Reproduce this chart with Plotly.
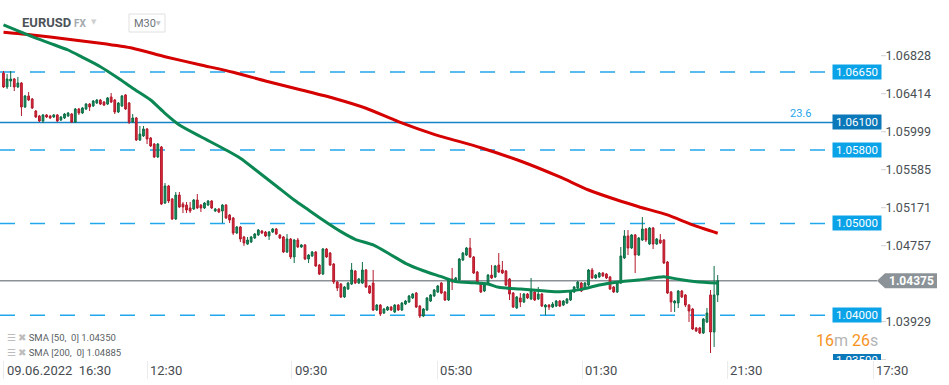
import plotly.graph_objects as go

# ---------------- data (EURUSD, M30) ----------------
open_ = [1.06639,1.06487,1.06552,1.06574,1.06487,1.06530,1.06269,1.06389,1.06356,1.06225,
1.06171,1.06116,1.06182,1.06171,1.06160,1.06182,1.06127,1.06149,1.06171,1.06192,
1.06105,1.06247,1.06203,1.06247,1.06301,1.06280,1.06312,1.06345,1.06323,1.06301,
1.06378,1.06345,1.06214,1.06280,1.06400,1.06312,1.06105,1.06149,1.05909,1.05953,
1.06029,1.05931,1.05865,1.05724,1.05833,1.05222,1.05408,1.05266,1.05048,1.05309,
1.05211,1.05200,1.05168,1.05157,1.05255,1.05200,1.05168,1.05200,1.05244,1.05135,
1.05157,1.05135,1.05200,1.05091,1.05059,1.04895,1.04961,1.04852,1.04775,1.04797,
1.04841,1.04874,1.04917,1.04906,1.04863,1.04906,1.04939,1.04874,1.04852,1.04688,
1.04830,1.04634,1.04819,1.04743,1.04765,1.04612,1.04645,1.04688,1.04546,1.04448,
1.04721,1.04677,1.04557,1.04361,1.04339,1.04198,1.04285,1.04339,1.04481,1.04350,
1.04350,1.04492,1.04318,1.04350,1.04056,1.04110,1.04023,1.04056,1.04088,1.04034,
1.04110,1.04056,1.04121,1.04143,1.04187,1.04241,1.04099,1.03990,1.04056,1.04154,
1.04209,1.04252,1.04350,1.04252,1.04165,1.04394,1.04361,1.04383,1.04601,1.04655,
1.04732,1.04634,1.04470,1.04350,1.04263,1.04350,1.04437,1.04416,1.04546,1.04492,
1.04481,1.04394,1.04241,1.04078,1.04187,1.04143,1.04230,1.04176,1.04252,1.04176,
1.04230,1.04088,1.04110,1.04088,1.04099,1.04154,1.04110,1.04132,1.04165,1.04252,
1.04296,1.04350,1.04296,1.04328,1.04492,1.04405,1.04416,1.04459,1.04448,1.04416,
1.04307,1.04252,1.04350,1.04623,1.04863,1.04732,1.04874,1.04655,1.04819,1.04939,
1.04775,1.04950,1.04775,1.04819,1.04819,1.04579,1.04252,1.04132,1.04132,1.04263,
1.04220,1.04110,1.04067,1.03860,1.03860,1.03805,1.03925,1.04220,1.03816,1.04220]

high = [1.06661,1.06628,1.06661,1.06585,1.06596,1.06541,1.06400,1.06432,1.06367,1.06236,
1.06182,1.06192,1.06192,1.06182,1.06192,1.06192,1.06171,1.06203,1.06214,1.06203,
1.06258,1.06258,1.06269,1.06312,1.06312,1.06345,1.06356,1.06356,1.06334,1.06378,
1.06421,1.06356,1.06323,1.06400,1.06410,1.06323,1.06192,1.06160,1.06062,1.06062,
1.06040,1.05942,1.05876,1.05876,1.05844,1.05440,1.05419,1.05277,1.05342,1.05342,
1.05233,1.05233,1.05233,1.05266,1.05320,1.05211,1.05233,1.05255,1.05255,1.05168,
1.05168,1.05211,1.05211,1.05102,1.05070,1.04972,1.04972,1.04863,1.04852,1.04863,
1.04895,1.04939,1.04928,1.04917,1.04917,1.04950,1.04950,1.04884,1.04863,1.04884,
1.04841,1.04830,1.04841,1.04775,1.04775,1.04666,1.04699,1.04699,1.04557,1.04732,
1.04732,1.04688,1.04568,1.04372,1.04350,1.04318,1.04361,1.04568,1.04492,1.04405,
1.04579,1.04503,1.04328,1.04492,1.04121,1.04121,1.04078,1.04099,1.04099,1.04121,
1.04121,1.04143,1.04165,1.04220,1.04241,1.04252,1.04110,1.04078,1.04198,1.04230,
1.04285,1.04328,1.04361,1.04263,1.04394,1.04514,1.04416,1.04623,1.04688,1.04743,
1.04841,1.04645,1.04481,1.04361,1.04339,1.04448,1.04546,1.04546,1.04677,1.04590,
1.04492,1.04405,1.04252,1.04209,1.04241,1.04241,1.04241,1.04405,1.04263,1.04307,
1.04241,1.04121,1.04121,1.04143,1.04165,1.04165,1.04165,1.04187,1.04263,1.04318,
1.04372,1.04361,1.04361,1.04503,1.04514,1.04448,1.04470,1.04470,1.04459,1.04427,
1.04318,1.04361,1.04743,1.04928,1.04928,1.04884,1.04884,1.04852,1.05070,1.04950,
1.04961,1.04961,1.04841,1.04884,1.04830,1.04590,1.04263,1.04165,1.04274,1.04274,
1.04230,1.04121,1.04078,1.03871,1.03871,1.03969,1.04078,1.04274,1.04536,1.04437]

low = [1.06476,1.06465,1.06487,1.06443,1.06476,1.06171,1.06258,1.06334,1.06247,1.06149,
1.06105,1.06094,1.06149,1.06138,1.06149,1.06105,1.06116,1.06138,1.06160,1.06094,
1.06094,1.06182,1.06192,1.06236,1.06225,1.06269,1.06301,1.06290,1.06280,1.06290,
1.06312,1.06192,1.06203,1.06269,1.06236,1.06083,1.06094,1.05898,1.05898,1.05942,
1.05865,1.05833,1.05713,1.05713,1.05200,1.05211,1.05222,1.05037,1.05037,1.05168,
1.05113,1.05113,1.05113,1.05146,1.05157,1.05124,1.05157,1.05189,1.05157,1.05124,
1.05113,1.05004,1.05048,1.05004,1.04874,1.04884,1.04797,1.04754,1.04765,1.04786,
1.04830,1.04863,1.04884,1.04852,1.04819,1.04895,1.04874,1.04830,1.04677,1.04677,
1.04612,1.04568,1.04732,1.04732,1.04601,1.04568,1.04634,1.04525,1.04437,1.04437,
1.04623,1.04536,1.04339,1.04263,1.04187,1.04187,1.04274,1.04328,1.04339,1.04339,
1.04339,1.04296,1.04230,1.04045,1.04045,1.03990,1.04012,1.04045,1.04045,1.04023,
1.04045,1.04045,1.04110,1.04132,1.04176,1.04078,1.03969,1.03979,1.04045,1.04143,
1.04198,1.04241,1.04230,1.04154,1.04154,1.04274,1.04350,1.04372,1.04590,1.04645,
1.04623,1.04448,1.04339,1.04241,1.04252,1.04339,1.04394,1.04405,1.04459,1.04448,
1.04318,1.04165,1.04078,1.04067,1.04088,1.04132,1.04176,1.04165,1.04154,1.04165,
1.04088,1.04001,1.04056,1.04078,1.04088,1.04088,1.04099,1.04121,1.04154,1.04241,
1.04285,1.04252,1.04285,1.04318,1.04394,1.04394,1.04405,1.04416,1.04394,1.04274,
1.04241,1.04241,1.04339,1.04612,1.04655,1.04721,1.04459,1.04645,1.04808,1.04797,
1.04765,1.04721,1.04765,1.04775,1.04557,1.04230,1.04034,1.04034,1.04078,1.04187,
1.04088,1.03925,1.03838,1.03816,1.03794,1.03794,1.03914,1.03587,1.03653,1.04143]

close = [1.06487,1.06574,1.06574,1.06487,1.06530,1.06269,1.06389,1.06345,1.06258,1.06160,
1.06116,1.06182,1.06160,1.06149,1.06182,1.06116,1.06160,1.06192,1.06203,1.06105,
1.06247,1.06203,1.06258,1.06301,1.06269,1.06334,1.06345,1.06301,1.06290,1.06367,
1.06323,1.06214,1.06312,1.06389,1.06247,1.06105,1.06149,1.05909,1.05974,1.06029,
1.05920,1.05844,1.05724,1.05865,1.05211,1.05408,1.05244,1.05048,1.05309,1.05179,
1.05179,1.05146,1.05135,1.05255,1.05168,1.05168,1.05222,1.05244,1.05168,1.05157,
1.05124,1.05200,1.05059,1.05037,1.04895,1.04961,1.04830,1.04786,1.04819,1.04852,
1.04884,1.04928,1.04895,1.04863,1.04906,1.04939,1.04884,1.04841,1.04688,1.04830,
1.04634,1.04819,1.04743,1.04765,1.04612,1.04655,1.04688,1.04536,1.04448,1.04721,
1.04634,1.04546,1.04361,1.04296,1.04198,1.04307,1.04350,1.04492,1.04350,1.04394,
1.04492,1.04307,1.04241,1.04056,1.04110,1.04012,1.04067,1.04088,1.04056,1.04110,
1.04056,1.04132,1.04154,1.04209,1.04230,1.04088,1.03990,1.04067,1.04187,1.04220,
1.04274,1.04318,1.04241,1.04165,1.04383,1.04361,1.04405,1.04612,1.04677,1.04732,
1.04634,1.04459,1.04350,1.04252,1.04328,1.04437,1.04405,1.04536,1.04470,1.04459,
1.04328,1.04230,1.04088,1.04198,1.04143,1.04230,1.04187,1.04274,1.04165,1.04230,
1.04099,1.04110,1.04088,1.04121,1.04154,1.04099,1.04154,1.04176,1.04252,1.04307,
1.04361,1.04263,1.04350,1.04492,1.04405,1.04437,1.04459,1.04427,1.04405,1.04285,
1.04252,1.04350,1.04645,1.04863,1.04732,1.04874,1.04655,1.04841,1.04939,1.04819,
1.04950,1.04775,1.04830,1.04786,1.04568,1.04241,1.04143,1.04154,1.04263,1.04198,
1.04110,1.04045,1.03849,1.03827,1.03805,1.03958,1.04023,1.03816,1.04220,1.04375]

bars = list(range(len(close)))

# SMA curves (bar index, value)
sma50_bars = [0,8,13,18,22,27,32,36,41,45,49,55,62,66,71,76,81,85,89,94,98,103,108,112,
              117,122,126,131,135,138,144,151,155,161,166,172,177,184,188,193,199]
sma50 = [1.07163,1.07035,1.06963,1.06890,1.06810,1.06708,1.06582,1.06473,1.06345,1.06200,
         1.06073,1.05945,1.05800,1.05710,1.05560,1.05408,1.05255,1.05146,1.05037,1.04910,
         1.04827,1.04765,1.04656,1.04565,1.04484,1.04419,1.04365,1.04354,1.04339,1.04303,
         1.04284,1.04263,1.04255,1.04281,1.04329,1.04365,1.04383,1.04419,1.04391,1.04365,1.04350]
sma200_bars = [0,8,18,27,36,45,55,64,73,83,92,101,110,120,133,144,155,163,171,177,185,192,199]
sma200 = [1.07083,1.07054,1.07007,1.06963,1.06909,1.06817,1.06727,1.06647,1.06552,1.06454,
          1.06364,1.06255,1.06109,1.05971,1.05825,1.05680,1.05506,1.05364,1.05255,1.05182,
          1.05092,1.04983,1.04892]

dashed_levels = [1.06650, 1.05800, 1.05000, 1.04000]
solid_level = 1.06100
bottom_level = 1.03500
fibo_label = "23.6"
current_price = 1.04375
sma50_last = 1.04350
sma200_last = 1.04885

y_ticks = [1.06828, 1.06414, 1.05999, 1.05585, 1.05171, 1.04757, 1.03929, 1.03515]
time_labels = ["09.06.2022&nbsp;&nbsp;16:30", "12:30", "09:30", "05:30", "01:30", "21:30", "17:30"]
time_tick_bars = [0, 40, 80.3, 120.9, 161.2, 201.7, 242.3]

# ---------------- layout helpers ----------------
W, H = 949, 385
PLOT_H = 360
X0_PX, BAR_PX = 3.5, 3.589
Y_TOP, Y_BOT = 1.07435, 1.03511
PX_PRICE = (Y_TOP - Y_BOT) / PLOT_H


def bx(px):
    return (px - X0_PX) / BAR_PX


def py(ypx):
    return (PLOT_H - ypx) / PLOT_H


FONT = "Roboto"
RED, RED_EDGE = "#dc2a3c", "#b3192b"
GREEN, GREEN_EDGE = "#17915f", "#0d6d46"
LVL_BLUE, LVL_DARK = "#0aa3e8", "#0a78b9"

fig = go.Figure()

fig.add_trace(go.Candlestick(
    x=bars, open=open_, high=high, low=low, close=close,
    increasing=dict(fillcolor=GREEN, line=dict(color=GREEN_EDGE, width=1)),
    decreasing=dict(fillcolor=RED, line=dict(color=RED_EDGE, width=1)),
    whiskerwidth=0, hoverinfo="skip", showlegend=False,
))

fig.add_trace(go.Scatter(x=sma200_bars, y=sma200, mode="lines",
                         line=dict(color="#d50000", width=3, shape="spline", smoothing=0.6),
                         hoverinfo="skip", showlegend=False))
fig.add_trace(go.Scatter(x=sma50_bars, y=sma50, mode="lines",
                         line=dict(color="#0b8753", width=3, shape="spline", smoothing=0.6),
                         hoverinfo="skip", showlegend=False))

# bottom (clipped) level label
half = 7 * PX_PRICE
fig.add_trace(go.Scatter(
    x=[bx(833), bx(881), bx(881), bx(833), bx(833)],
    y=[bottom_level - half, bottom_level - half, bottom_level + half, bottom_level + half, bottom_level - half],
    fill="toself", fillcolor=LVL_DARK, line=dict(width=0), mode="lines",
    hoverinfo="skip", showlegend=False))
fig.add_trace(go.Scatter(
    x=[bx(857)], y=[bottom_level], mode="text", text=["%.5f" % bottom_level],
    textfont=dict(family=FONT, size=11.5, color="white"), cliponaxis=True,
    hoverinfo="skip", showlegend=False))

shapes = []
annotations = []
xmin = bx(0)

for lv in dashed_levels:
    shapes.append(dict(type="line", xref="x", yref="y", x0=xmin, x1=bx(833), y0=lv, y1=lv,
                       line=dict(color="#22a6ec", width=1.5, dash="15px,15px"), layer="below"))
    annotations.append(dict(xref="x", yref="y", x=bx(857), y=lv, text="%.5f" % lv, showarrow=False,
                            font=dict(family=FONT, size=11.5, color="white"), bgcolor=LVL_BLUE,
                            width=48, height=14, borderpad=0))
shapes.append(dict(type="line", xref="x", yref="y", x0=xmin, x1=bx(833), y0=solid_level, y1=solid_level,
                   line=dict(color="#1583c6", width=1.3), layer="below"))
annotations.append(dict(xref="x", yref="y", x=bx(857), y=solid_level, text="%.5f" % solid_level,
                        showarrow=False, font=dict(family=FONT, size=11.5, color="white"),
                        bgcolor=LVL_DARK, width=48, height=14, borderpad=0))
annotations.append(dict(xref="x", yref="y", x=bx(800), y=solid_level, yshift=9, text=fibo_label,
                        showarrow=False, font=dict(family=FONT, size=11, color="#25a6ea")))

# current price line and arrow label
shapes.append(dict(type="line", xref="x", yref="y", x0=xmin, x1=bx(877), y0=current_price, y1=current_price,
                   line=dict(color="#8a9297", width=1.3), layer="below"))
d = 7.5 * PX_PRICE
path = "M %f,%f L %f,%f L %f,%f L %f,%f L %f,%f Z" % (
    bx(877), current_price, bx(885), current_price + d, bx(937), current_price + d,
    bx(937), current_price - d, bx(885), current_price - d)
shapes.append(dict(type="path", xref="x", yref="y", path=path, fillcolor="#8b9398",
                   line=dict(width=0)))
annotations.append(dict(xref="x", yref="y", x=bx(911), y=current_price, text="<b>%.5f</b>" % current_price,
                        showarrow=False, font=dict(family=FONT, size=12, color="white")))

# price-axis tick dashes
for t in y_ticks:
    shapes.append(dict(type="line", xref="x", yref="y", x0=bx(881), x1=bx(886), y0=t, y1=t,
                       line=dict(color="#d0d0d0", width=1)))

# time labels
for tb, lab in zip(time_tick_bars, time_labels):
    annotations.append(dict(xref="x", yref="paper", x=tb, y=py(371), xanchor="left", xshift=1,
                            yanchor="middle", text=lab, showarrow=False,
                            font=dict(family=FONT, size=13, color="#474c51")))

# countdown
annotations.append(dict(xref="paper", yref="paper", x=880 / W, y=py(340), xanchor="right", yanchor="middle",
                        text="<span style='color:#f7931e'>16</span><span style='color:#b4b4b4'>m</span> "
                             "<span style='color:#f7931e'>26</span><span style='color:#b4b4b4'>s</span>",
                        showarrow=False, font=dict(family=FONT, size=16)))

# indicator legend
for row_y, txt in [(337, "SMA [50,&nbsp;&nbsp;0] %.5f" % sma50_last),
                   (352, "SMA [200,&nbsp;&nbsp;0] %.5f" % sma200_last)]:
    annotations.append(dict(xref="paper", yref="paper", x=5 / W, y=py(row_y), xanchor="left", yanchor="middle",
                            text="<span style='color:#bdbdbd'>☰ ✖</span> " + txt, showarrow=False,
                            font=dict(family=FONT, size=9.5, color="#5a5f64")))

# header
annotations.append(dict(xref="paper", yref="paper", x=20 / W, y=py(22.5), xanchor="left", yanchor="middle",
                        text="<b>EURUSD</b>", showarrow=False, font=dict(family=FONT, size=13, color="#4d5358")))
annotations.append(dict(xref="paper", yref="paper", x=72 / W, y=py(23.5), xanchor="left", yanchor="middle",
                        text="<b>FX</b>", showarrow=False, font=dict(family=FONT, size=10, color="#a3a9ae")))
annotations.append(dict(xref="paper", yref="paper", x=89 / W, y=py(21.5), xanchor="left", yanchor="middle",
                        text="▼", showarrow=False, font=dict(family="DejaVu Sans", size=7, color="#cfcfcf")))
shapes.append(dict(type="rect", xref="paper", yref="paper", x0=129 / W, x1=165 / W, y0=py(32), y1=py(14),
                   line=dict(color="#e0e0e0", width=1), fillcolor="white"))
annotations.append(dict(xref="paper", yref="paper", x=132 / W, y=py(23), xanchor="left", yanchor="middle",
                        text="M30", showarrow=False, font=dict(family=FONT, size=11, color="#6d7378")))
annotations.append(dict(xref="paper", yref="paper", x=154 / W, y=py(22), xanchor="left", yanchor="middle",
                        text="▼", showarrow=False, font=dict(family="DejaVu Sans", size=6, color="#bdbdbd")))

fig.update_layout(
    width=W, height=H, margin=dict(l=0, r=0, t=0, b=H - PLOT_H),
    paper_bgcolor="white", plot_bgcolor="white", hovermode=False, showlegend=False,
    shapes=shapes, annotations=annotations,
    xaxis=dict(range=[bx(0), bx(W)], showgrid=False, zeroline=False, showticklabels=False,
               tickvals=time_tick_bars, ticks="outside", ticklen=18, tickcolor="#ebebeb",
               showline=False, rangeslider=dict(visible=False), fixedrange=True),
    yaxis=dict(range=[Y_BOT, Y_TOP], side="right", showgrid=False, zeroline=False,
               tickvals=y_ticks, ticktext=["%.5f" % t for t in y_ticks],
               ticklabelposition="inside", ticks="", ticklabelstandoff=15,
               tickfont=dict(family=FONT, size=12.5, color="#4a4f54"), fixedrange=True),
)

fig.write_html("out.html", config={"displayModeBar": False},
               post_script="document.body.style.margin='0';document.body.style.padding='0';")
